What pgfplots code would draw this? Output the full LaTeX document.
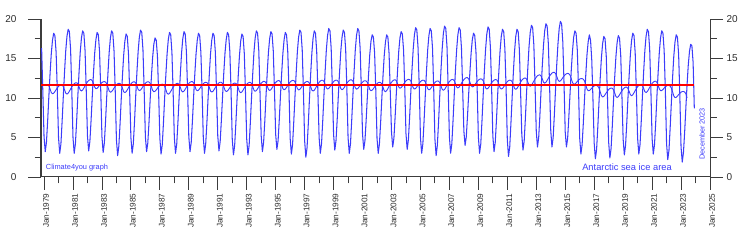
\documentclass[border=0pt]{standalone}
\usepackage{pgfplots}
\pgfplotsset{compat=1.18}
\usepackage{pgfplotstable}
\usepackage{fontspec}
\setmainfont{Liberation Sans}
\definecolor{seablue}{RGB}{60,60,250}
\definecolor{axisgray}{RGB}{60,60,60}
\definecolor{labgray}{RGB}{45,45,45}
\definecolor{meanred}{RGB}{255,0,0}

% monthly values, Nov 1978 ... Dec 2023
\pgfplotstableread[row sep=\\]{v\\
16.3\\ 10.8\\
5.1\\ 3.2\\ 4.4\\ 7.1\\ 10.2\\ 13.1\\ 15.6\\ 17.3\\ 18.2\\ 17.9\\ 15.8\\ 10.9\\
5.0\\ 3.0\\ 4.2\\ 7.1\\ 10.3\\ 13.3\\ 16.0\\ 17.8\\ 18.7\\ 18.4\\ 16.2\\ 11.0\\
5.0\\ 3.0\\ 4.2\\ 7.0\\ 10.2\\ 13.2\\ 15.8\\ 17.6\\ 18.5\\ 18.2\\ 16.0\\ 10.9\\
5.2\\ 3.3\\ 4.5\\ 7.2\\ 10.3\\ 13.2\\ 15.7\\ 17.4\\ 18.3\\ 18.0\\ 15.9\\ 11.0\\
5.1\\ 3.1\\ 4.3\\ 7.1\\ 10.3\\ 13.2\\ 15.8\\ 17.6\\ 18.5\\ 18.2\\ 16.0\\ 11.0\\
4.7\\ 2.7\\ 3.9\\ 6.7\\ 9.9\\ 12.8\\ 15.4\\ 17.2\\ 18.1\\ 17.8\\ 15.6\\ 10.6\\
5.0\\ 3.0\\ 4.2\\ 7.0\\ 10.3\\ 13.3\\ 15.9\\ 17.7\\ 18.6\\ 18.3\\ 16.1\\ 11.0\\
5.1\\ 3.2\\ 4.3\\ 6.9\\ 9.9\\ 12.7\\ 15.1\\ 16.8\\ 17.6\\ 17.3\\ 15.3\\ 10.5\\
4.9\\ 2.9\\ 4.1\\ 6.9\\ 10.1\\ 13.0\\ 15.6\\ 17.4\\ 18.3\\ 18.0\\ 15.8\\ 10.8\\
5.0\\ 3.0\\ 4.2\\ 7.0\\ 10.2\\ 13.1\\ 15.7\\ 17.5\\ 18.4\\ 18.1\\ 15.9\\ 10.9\\
5.1\\ 3.2\\ 4.4\\ 7.1\\ 10.2\\ 13.1\\ 15.6\\ 17.3\\ 18.2\\ 17.9\\ 15.8\\ 10.9\\
5.0\\ 3.0\\ 4.2\\ 6.9\\ 10.1\\ 13.0\\ 15.6\\ 17.3\\ 18.2\\ 17.9\\ 15.8\\ 10.8\\
5.2\\ 3.3\\ 4.5\\ 7.2\\ 10.3\\ 13.2\\ 15.7\\ 17.4\\ 18.3\\ 18.0\\ 15.9\\ 11.0\\
4.8\\ 2.8\\ 4.0\\ 6.8\\ 9.9\\ 12.9\\ 15.4\\ 17.2\\ 18.1\\ 17.8\\ 15.6\\ 10.6\\
4.8\\ 2.8\\ 4.0\\ 6.9\\ 10.1\\ 13.1\\ 15.8\\ 17.6\\ 18.5\\ 18.2\\ 16.0\\ 10.8\\
5.2\\ 3.2\\ 4.4\\ 7.1\\ 10.3\\ 13.2\\ 15.8\\ 17.5\\ 18.4\\ 18.1\\ 16.0\\ 11.0\\
5.4\\ 3.5\\ 4.6\\ 7.3\\ 10.4\\ 13.2\\ 15.7\\ 17.4\\ 18.3\\ 18.0\\ 15.9\\ 11.1\\
4.9\\ 2.9\\ 4.1\\ 7.0\\ 10.2\\ 13.2\\ 15.9\\ 17.7\\ 18.6\\ 18.3\\ 16.1\\ 10.9\\
4.6\\ 2.5\\ 3.7\\ 6.6\\ 9.9\\ 13.0\\ 15.7\\ 17.6\\ 18.5\\ 18.2\\ 15.9\\ 10.7\\
5.0\\ 3.0\\ 4.2\\ 7.1\\ 10.3\\ 13.4\\ 16.1\\ 17.9\\ 18.8\\ 18.5\\ 16.3\\ 11.1\\
5.4\\ 3.4\\ 4.6\\ 7.3\\ 10.5\\ 13.4\\ 16.0\\ 17.7\\ 18.6\\ 18.3\\ 16.2\\ 11.2\\
5.0\\ 3.0\\ 4.2\\ 7.1\\ 10.3\\ 13.4\\ 16.1\\ 17.9\\ 18.8\\ 18.5\\ 16.3\\ 11.1\\
5.4\\ 3.5\\ 4.6\\ 7.2\\ 10.2\\ 13.0\\ 15.5\\ 17.2\\ 18.0\\ 17.7\\ 15.7\\ 10.9\\
4.9\\ 3.0\\ 4.2\\ 6.9\\ 10.0\\ 12.9\\ 15.4\\ 17.1\\ 18.0\\ 17.7\\ 15.6\\ 10.7\\
5.7\\ 3.8\\ 4.9\\ 7.6\\ 10.6\\ 13.4\\ 15.9\\ 17.6\\ 18.4\\ 18.1\\ 16.1\\ 11.3\\
5.5\\ 3.5\\ 4.7\\ 7.5\\ 10.7\\ 13.6\\ 16.2\\ 18.0\\ 18.9\\ 18.6\\ 16.4\\ 11.4\\
5.0\\ 3.0\\ 4.2\\ 7.1\\ 10.3\\ 13.4\\ 16.1\\ 17.9\\ 18.8\\ 18.5\\ 16.3\\ 11.1\\
4.8\\ 2.7\\ 4.0\\ 6.9\\ 10.3\\ 13.5\\ 16.2\\ 18.2\\ 19.1\\ 18.8\\ 16.5\\ 11.1\\
5.1\\ 3.0\\ 4.2\\ 7.1\\ 10.4\\ 13.5\\ 16.1\\ 18.0\\ 18.9\\ 18.6\\ 16.3\\ 11.1\\
5.8\\ 4.0\\ 5.1\\ 7.7\\ 10.6\\ 13.3\\ 15.7\\ 17.4\\ 18.2\\ 17.9\\ 15.9\\ 11.2\\
5.1\\ 3.0\\ 4.2\\ 7.1\\ 10.4\\ 13.5\\ 16.2\\ 18.1\\ 19.0\\ 18.7\\ 16.4\\ 11.2\\
5.2\\ 3.2\\ 4.4\\ 7.2\\ 10.4\\ 13.4\\ 16.0\\ 17.8\\ 18.7\\ 18.4\\ 16.2\\ 11.1\\
4.7\\ 2.6\\ 3.8\\ 6.8\\ 10.1\\ 13.2\\ 15.9\\ 17.8\\ 18.7\\ 18.4\\ 16.1\\ 10.8\\
5.4\\ 3.4\\ 4.6\\ 7.5\\ 10.8\\ 13.8\\ 16.5\\ 18.3\\ 19.2\\ 18.9\\ 16.7\\ 11.5\\
5.8\\ 3.8\\ 5.0\\ 7.8\\ 11.1\\ 14.1\\ 16.7\\ 18.5\\ 19.4\\ 19.1\\ 16.9\\ 11.8\\
5.9\\ 3.8\\ 5.0\\ 7.9\\ 11.2\\ 14.3\\ 16.9\\ 18.8\\ 19.7\\ 19.4\\ 17.1\\ 11.9\\
5.7\\ 3.8\\ 4.9\\ 7.6\\ 10.6\\ 13.5\\ 15.9\\ 17.7\\ 18.5\\ 18.2\\ 16.1\\ 11.3\\
4.9\\ 2.9\\ 4.1\\ 6.8\\ 9.9\\ 12.8\\ 15.4\\ 17.1\\ 18.0\\ 17.3\\ 14.8\\ 9.8\\
4.3\\ 2.3\\ 3.5\\ 6.3\\ 9.5\\ 12.5\\ 15.1\\ 16.9\\ 17.8\\ 17.5\\ 15.3\\ 10.2\\
4.4\\ 2.4\\ 3.6\\ 6.4\\ 9.6\\ 12.6\\ 15.2\\ 17.0\\ 17.9\\ 17.6\\ 15.4\\ 10.3\\
4.8\\ 2.8\\ 4.0\\ 6.8\\ 10.0\\ 12.9\\ 15.5\\ 17.3\\ 18.2\\ 17.9\\ 15.7\\ 10.7\\
4.9\\ 2.9\\ 4.1\\ 7.0\\ 10.3\\ 13.3\\ 16.0\\ 17.8\\ 18.7\\ 18.4\\ 16.2\\ 11.0\\
4.9\\ 2.9\\ 4.1\\ 6.9\\ 10.2\\ 13.2\\ 15.8\\ 17.6\\ 18.5\\ 18.2\\ 16.0\\ 10.9\\
4.2\\ 2.2\\ 3.4\\ 6.3\\ 9.5\\ 12.6\\ 15.3\\ 17.1\\ 18.0\\ 17.7\\ 15.5\\ 10.3\\
3.8\\ 1.9\\ 3.1\\ 5.7\\ 8.8\\ 11.7\\ 14.2\\ 15.9\\ 16.8\\ 16.6\\ 14.5\\ 8.7\\
}\monthly

% running mean, May 1979 ... Jun 2023
\pgfplotstableread[row sep=\\]{v\\
11.54\\ 11.14\\ 10.69\\ 10.53\\ 10.61\\ 10.81\\ 11.05\\ 11.27\\
11.47\\ 11.60\\ 11.66\\ 11.63\\ 11.45\\ 11.04\\ 10.61\\ 10.49\\ 10.61\\ 10.86\\ 11.14\\ 11.40\\
11.64\\ 11.81\\ 11.91\\ 11.93\\ 11.79\\ 11.42\\ 11.01\\ 10.89\\ 11.01\\ 11.26\\ 11.54\\ 11.80\\
12.04\\ 12.21\\ 12.31\\ 12.33\\ 12.19\\ 11.82\\ 11.37\\ 11.18\\ 11.23\\ 11.39\\ 11.60\\ 11.79\\
11.95\\ 12.05\\ 12.08\\ 12.01\\ 11.80\\ 11.36\\ 10.89\\ 10.73\\ 10.81\\ 11.01\\ 11.25\\ 11.47\\
11.67\\ 11.80\\ 11.86\\ 11.83\\ 11.65\\ 11.24\\ 10.80\\ 10.68\\ 10.79\\ 11.03\\ 11.30\\ 11.56\\
11.78\\ 11.95\\ 12.04\\ 12.05\\ 11.90\\ 11.53\\ 11.09\\ 10.93\\ 11.01\\ 11.21\\ 11.45\\ 11.67\\
11.87\\ 12.00\\ 12.06\\ 12.03\\ 11.85\\ 11.44\\ 10.97\\ 10.79\\ 10.85\\ 11.02\\ 11.24\\ 11.44\\
11.60\\ 11.71\\ 11.75\\ 11.69\\ 11.49\\ 11.06\\ 10.60\\ 10.48\\ 10.59\\ 10.83\\ 11.10\\ 11.36\\
11.58\\ 11.75\\ 11.84\\ 11.85\\ 11.70\\ 11.33\\ 10.90\\ 10.77\\ 10.87\\ 11.10\\ 11.37\\ 11.61\\
11.83\\ 11.99\\ 12.07\\ 12.07\\ 11.92\\ 11.53\\ 11.08\\ 10.92\\ 10.99\\ 11.18\\ 11.42\\ 11.63\\
11.81\\ 11.94\\ 11.99\\ 11.95\\ 11.77\\ 11.35\\ 10.89\\ 10.75\\ 10.85\\ 11.07\\ 11.33\\ 11.57\\
11.77\\ 11.92\\ 12.00\\ 11.99\\ 11.83\\ 11.44\\ 10.98\\ 10.82\\ 10.89\\ 11.08\\ 11.32\\ 11.53\\
11.71\\ 11.84\\ 11.89\\ 11.85\\ 11.67\\ 11.25\\ 10.80\\ 10.67\\ 10.77\\ 11.00\\ 11.27\\ 11.51\\
11.73\\ 11.89\\ 11.97\\ 11.97\\ 11.82\\ 11.43\\ 10.99\\ 10.85\\ 10.95\\ 11.17\\ 11.43\\ 11.67\\
11.87\\ 12.02\\ 12.10\\ 12.09\\ 11.93\\ 11.54\\ 11.09\\ 10.95\\ 11.05\\ 11.27\\ 11.53\\ 11.77\\
11.97\\ 12.12\\ 12.20\\ 12.19\\ 12.03\\ 11.64\\ 11.19\\ 11.04\\ 11.13\\ 11.34\\ 11.59\\ 11.82\\
12.02\\ 12.16\\ 12.23\\ 12.21\\ 12.04\\ 11.64\\ 11.18\\ 11.02\\ 11.09\\ 11.28\\ 11.52\\ 11.73\\
11.91\\ 12.04\\ 12.09\\ 12.05\\ 11.87\\ 11.45\\ 11.00\\ 10.88\\ 10.99\\ 11.23\\ 11.50\\ 11.76\\
11.98\\ 12.15\\ 12.24\\ 12.25\\ 12.10\\ 11.73\\ 11.29\\ 11.13\\ 11.21\\ 11.41\\ 11.65\\ 11.87\\
12.07\\ 12.20\\ 12.26\\ 12.23\\ 12.05\\ 11.64\\ 11.19\\ 11.05\\ 11.15\\ 11.37\\ 11.63\\ 11.87\\
12.07\\ 12.22\\ 12.30\\ 12.29\\ 12.13\\ 11.74\\ 11.28\\ 11.12\\ 11.19\\ 11.38\\ 11.62\\ 11.83\\
12.01\\ 12.14\\ 12.19\\ 12.15\\ 11.97\\ 11.55\\ 11.08\\ 10.92\\ 10.99\\ 11.18\\ 11.42\\ 11.63\\
11.81\\ 11.94\\ 11.99\\ 11.95\\ 11.77\\ 11.35\\ 10.91\\ 10.80\\ 10.93\\ 11.19\\ 11.48\\ 11.75\\
11.99\\ 12.17\\ 12.28\\ 12.31\\ 12.18\\ 11.82\\ 11.39\\ 11.23\\ 11.31\\ 11.51\\ 11.75\\ 11.97\\
12.17\\ 12.30\\ 12.36\\ 12.33\\ 12.15\\ 11.74\\ 11.29\\ 11.13\\ 11.21\\ 11.41\\ 11.65\\ 11.87\\
12.07\\ 12.20\\ 12.26\\ 12.23\\ 12.05\\ 11.64\\ 11.19\\ 11.03\\ 11.11\\ 11.31\\ 11.55\\ 11.77\\
11.97\\ 12.10\\ 12.16\\ 12.13\\ 11.95\\ 11.54\\ 11.10\\ 10.98\\ 11.09\\ 11.33\\ 11.60\\ 11.86\\
12.08\\ 12.25\\ 12.34\\ 12.35\\ 12.20\\ 11.83\\ 11.40\\ 11.27\\ 11.37\\ 11.60\\ 11.87\\ 12.11\\
12.33\\ 12.49\\ 12.57\\ 12.57\\ 12.42\\ 12.03\\ 11.58\\ 11.40\\ 11.47\\ 11.65\\ 11.88\\ 12.08\\
12.26\\ 12.37\\ 12.42\\ 12.37\\ 12.18\\ 11.75\\ 11.29\\ 11.14\\ 11.23\\ 11.44\\ 11.69\\ 11.92\\
12.12\\ 12.26\\ 12.33\\ 12.31\\ 12.14\\ 11.74\\ 11.29\\ 11.13\\ 11.21\\ 11.41\\ 11.65\\ 11.87\\
12.07\\ 12.20\\ 12.26\\ 12.23\\ 12.05\\ 11.64\\ 11.21\\ 11.09\\ 11.21\\ 11.46\\ 11.74\\ 12.00\\
12.24\\ 12.41\\ 12.51\\ 12.53\\ 12.39\\ 12.02\\ 11.61\\ 11.49\\ 11.61\\ 11.86\\ 12.14\\ 12.40\\
12.64\\ 12.81\\ 12.91\\ 12.93\\ 12.79\\ 12.42\\ 12.00\\ 11.88\\ 11.99\\ 12.23\\ 12.50\\ 12.76\\
12.98\\ 13.15\\ 13.24\\ 13.25\\ 13.10\\ 12.73\\ 12.28\\ 12.10\\ 12.17\\ 12.35\\ 12.58\\ 12.78\\
12.96\\ 13.07\\ 13.12\\ 13.07\\ 12.88\\ 12.45\\ 11.96\\ 11.74\\ 11.76\\ 11.91\\ 12.09\\ 12.25\\
12.39\\ 12.46\\ 12.46\\ 12.38\\ 12.14\\ 11.67\\ 11.15\\ 10.93\\ 10.94\\ 11.08\\ 11.25\\ 11.41\\
11.53\\ 11.60\\ 11.59\\ 11.50\\ 11.25\\ 10.78\\ 10.29\\ 10.13\\ 10.21\\ 10.41\\ 10.65\\ 10.87\\
11.07\\ 11.20\\ 11.26\\ 11.23\\ 11.05\\ 10.64\\ 10.20\\ 10.07\\ 10.17\\ 10.40\\ 10.67\\ 10.91\\
11.13\\ 11.29\\ 11.37\\ 11.37\\ 11.22\\ 10.83\\ 10.41\\ 10.29\\ 10.41\\ 10.66\\ 10.94\\ 11.20\\
11.44\\ 11.61\\ 11.71\\ 11.73\\ 11.59\\ 11.22\\ 10.81\\ 10.69\\ 10.81\\ 11.06\\ 11.34\\ 11.60\\
11.84\\ 12.01\\ 12.11\\ 12.13\\ 11.99\\ 11.62\\ 11.15\\ 10.93\\ 10.94\\ 11.08\\ 11.25\\ 11.41\\
11.53\\ 11.60\\ 11.59\\ 11.50\\ 11.25\\ 10.78\\ 10.26\\ 10.05\\ 10.08\\ 10.24\\ 10.43\\ 10.60\\
10.74\\ 10.82\\ 10.83\\ 10.76\\ 10.53\\ 10.00\\
}\runmean

\pgfplotsset{
  icebase/.style={
    at={(41pt,69pt)}, anchor=south west,
    scale only axis, width=669pt, height=158pt,
    xmin=1978.79, xmax=2025, ymin=0, ymax=20,
    tick align=outside,
    major tick length=13pt, minor tick length=6.5pt,
    major tick style={axisgray, line width=0.9pt},
    minor tick style={axisgray, line width=0.9pt},
    axis line style={axisgray, line width=1pt},
    ytick={0,5,10,15,20}, minor ytick={2.5,7.5,12.5,17.5},
    yticklabel style={font=\fontsize{10}{10}\selectfont, text=labgray},
    /pgf/number format/assume math mode=true,
  }
}

\begin{document}
\begin{tikzpicture}
\useasboundingbox (0pt,0pt) rectangle (753pt,246pt);
\begin{axis}[icebase,
  axis x line*=bottom, axis y line*=left,
  yticklabel style={xshift=-8pt},
  xtick={1979,1981,1983,1985,1987,1989,1991,1993,1995,1997,1999,2001,2003,2005,2007,2009,2011,2013,2015,2017,2019,2021,2023,2025},
  minor xtick={1980,1982,1984,1986,1988,1990,1992,1994,1996,1998,2000,2002,2004,2006,2008,2010,2012,2014,2016,2018,2020,2022,2024},
  xticklabels={Jan-1979,Jan-1981,Jan-1983,Jan-1985,Jan-1987,Jan-1989,Jan-1991,Jan-1993,Jan-1995,Jan-1997,Jan-1999,Jan-2001,Jan-2003,Jan-2005,Jan-2007,Jan-2009,Jan-2011,Jan-2013,Jan-2015,Jan-2017,Jan-2019,Jan-2021,Jan-2023,Jan-2025},
  xticklabel style={rotate=90, anchor=east, yshift=-2pt, font=\fontsize{8.2}{8}\selectfont, text=labgray},
]
\addplot[seablue, line width=1.05pt, line join=round] table[x expr={1978.8333+\coordindex/12}, y=v] {\monthly};
\addplot[seablue, line width=0.9pt, line join=round] table[x expr={1979.3333+\coordindex/12}, y=v] {\runmean};
\addplot[meanred, line width=1.8pt] coordinates {(1978.79,11.6) (2023.92,11.6)};
\end{axis}
\begin{axis}[icebase,
  axis y line*=right, axis x line=none,
  yticklabel style={anchor=west},
]
\end{axis}
\node[text=seablue, font=\fontsize{7.4}{8}\selectfont] at (77pt,78pt) {Climate4you graph};
\node[text=seablue, font=\fontsize{9.3}{10}\selectfont] at (627pt,79pt) {Antarctic sea ice area};
\node[text=seablue, rotate=90, font=\fontsize{7.3}{8}\selectfont] at (702pt,112pt) {December 2023};
\end{tikzpicture}
\end{document}
